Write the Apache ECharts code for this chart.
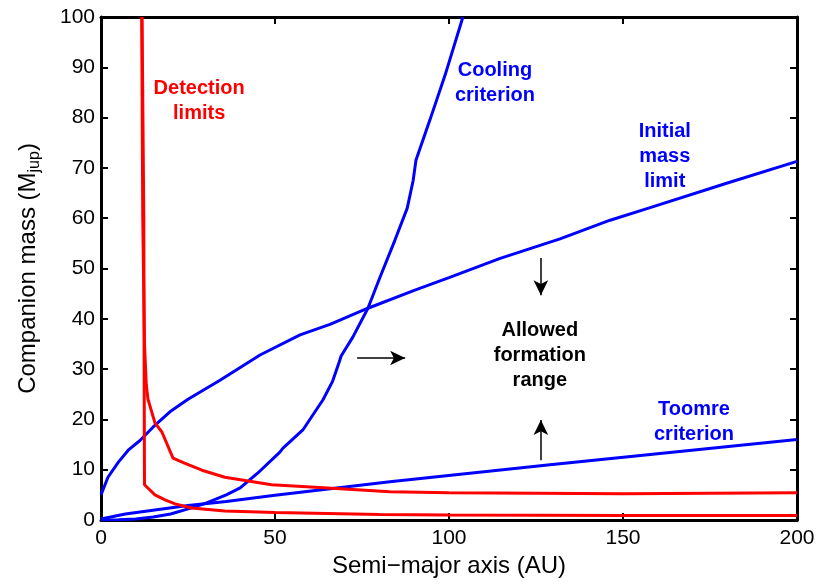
<!DOCTYPE html>
<html>
<head>
<meta charset="utf-8">
<script src="https://cdn.jsdelivr.net/npm/echarts@6/dist/echarts.min.js"></script>
<style>
  html, body { margin: 0; padding: 0; background: #fff; }
  #main { width: 819px; height: 584px; }
</style>
</head>
<body>
<div id="main"></div>
<script>
// curves: [semi-major axis (AU), mass (Mjup)]
var coolingCriterion = [
  [0, 0], [5, 0.05], [10, 0.2], [15, 0.6], [20, 1.2], [26, 2.4], [30, 3.3], [36, 5],
  [40, 6.4], [45, 9.3], [51.4, 13.5], [52.3, 14.3], [58, 17.9], [63.8, 23.9], [66.5, 27.5],
  [68.5, 31.5], [69, 32.6], [72.4, 36.4], [76.7, 42.1], [80.2, 48.3], [84.5, 55.7],
  [88, 62], [89.7, 67.5], [90.5, 71.5], [94.5, 79.5], [98.9, 88.5], [104, 100]
];
var initialMassLimit = [
  [0, 5], [2, 8.5], [5, 11.5], [8, 14], [11.2, 15.8], [15, 18.5], [19.8, 21.5], [25, 24],
  [34.2, 27.8], [45.7, 32.8], [57.2, 36.8], [65.8, 38.9], [76.7, 42.1], [90.2, 45.7],
  [100, 48.2], [114.7, 52], [131.9, 55.9], [146.3, 59.6], [157.8, 62.1], [180, 67], [200, 71.3]
];
var toomreCriterion = [
  [0, 0.2], [7, 1.2], [25, 2.9], [36, 3.7], [50, 4.9], [83, 7.6], [129, 11], [200, 16]
];
var detectionUpper = [
  [11.7, 100], [12.0, 60], [12.5, 35], [13, 27], [13.5, 24], [15.5, 19.3], [17.5, 17.5],
  [20.7, 12.3], [24, 11.3], [29, 9.9], [35.6, 8.5], [49, 7], [64, 6.4], [83, 5.6],
  [100, 5.4], [150, 5.2], [200, 5.4]
];
var detectionLower = [
  [11.8, 100], [12.3, 60], [12.4, 30], [12.5, 7], [15.5, 5], [18.4, 4], [21.3, 3.2],
  [26, 2.4], [35.6, 1.8], [50, 1.5], [65, 1.3], [80, 1.1], [100, 1.0], [150, 0.9], [200, 0.9]
];

// annotations
var blueNotes = [
  [113.2, 86.9, 'Cooling\ncriterion'],
  [162, 72.2, 'Initial\nmass\nlimit'],
  [170.4, 19.4, 'Toomre\ncriterion']
];
var redNotes = [[28.2, 83.4, 'Detection\nlimits']];
var blackNotes = [[126.1, 32.8, 'Allowed\nformation\nrange']];
var arrows = [
  [[73.6, 32.2], [87.4, 32.2]],
  [[126.4, 52.1], [126.4, 44.7]],
  [[126.4, 11.9], [126.4, 19.9]]
];

var xTicks = { min: 0, max: 200, interval: 50 };
var yTicks = { min: 0, max: 100, interval: 10 };

var font = 'Liberation Sans, Arial, Helvetica, sans-serif';
var axisLine = { show: true, onZero: false, lineStyle: { color: '#000', width: 3 } };
var axisTick = { show: true, inside: true, length: 7, lineStyle: { color: '#000', width: 2 } };
var tickLabel = { color: '#000', fontSize: 21, fontFamily: font };

function curve(name, data, color) {
  return {
    name: name, type: 'line', data: data, showSymbol: false, symbol: 'none',
    lineStyle: { color: color, width: 3 }, z: 3, animation: false
  };
}
function notes(data, color) {
  return {
    type: 'scatter', data: data, symbolSize: 2, z: 5, silent: true,
    itemStyle: { color: 'transparent', opacity: 1 },
    label: {
      show: true, position: 'inside', align: 'center', verticalAlign: 'middle',
      color: color, opacity: 1, fontSize: 20, fontWeight: 'bold', lineHeight: 25, fontFamily: font,
      formatter: function (p) { return p.data[2]; }
    },
    labelLayout: { hideOverlap: false },
    animation: false
  };
}

var chart = echarts.init(document.getElementById('main'));
chart.setOption({
  backgroundColor: '#fff',
  grid: { left: 101, right: 22, top: 17, bottom: 64 },
  xAxis: [{
    type: 'value', min: xTicks.min, max: xTicks.max, interval: xTicks.interval,
    position: 'bottom', axisLine: axisLine, axisTick: axisTick, splitLine: { show: false },
    axisLabel: Object.assign({ margin: 8 }, tickLabel),
    name: 'Semi\u2212major axis (AU)', nameLocation: 'middle', nameGap: 34,
    nameTextStyle: { color: '#000', fontSize: 24, fontFamily: font }
  }, {
    type: 'value', min: xTicks.min, max: xTicks.max, interval: xTicks.interval,
    position: 'top', axisLine: axisLine, axisTick: axisTick, splitLine: { show: false },
    axisLabel: { show: false }
  }],
  yAxis: [{
    type: 'value', min: yTicks.min, max: yTicks.max, interval: yTicks.interval,
    position: 'left', axisLine: axisLine, axisTick: axisTick, splitLine: { show: false },
    axisLabel: Object.assign({ margin: 6 }, tickLabel),
    name: 'Companion mass (M{sub|jup})', nameLocation: 'middle', nameGap: 58,
    nameTextStyle: {
      color: '#000', fontSize: 24, fontFamily: font, verticalAlign: 'bottom',
      rich: { sub: { fontSize: 16, fontFamily: font, color: '#000', padding: [14, 0, 0, 0] } }
    }
  }, {
    type: 'value', min: yTicks.min, max: yTicks.max, interval: yTicks.interval,
    position: 'right', axisLine: axisLine, axisTick: axisTick, splitLine: { show: false },
    axisLabel: { show: false }
  }],
  series: [
    curve('Toomre criterion', toomreCriterion, '#0000ff'),
    curve('Initial mass limit', initialMassLimit, '#0000ff'),
    curve('Cooling criterion', coolingCriterion, '#0000ff'),
    curve('Detection limits', detectionUpper, '#ff0000'),
    curve('Detection limits (lower)', detectionLower, '#ff0000'),
    notes(blueNotes, '#0000ff'),
    notes(redNotes, '#ff0000'),
    notes(blackNotes, '#000'),
    {
      type: 'line', data: [], animation: false,
      markLine: {
        silent: true, symbol: ['none', 'arrow'], symbolSize: [11, 15],
        label: { show: false },
        lineStyle: { color: '#000', width: 1.5, type: 'solid' },
        data: arrows.map(function (a) { return [{ coord: a[0] }, { coord: a[1] }]; })
      }
    }
  ]
});
</script>
</body>
</html>
